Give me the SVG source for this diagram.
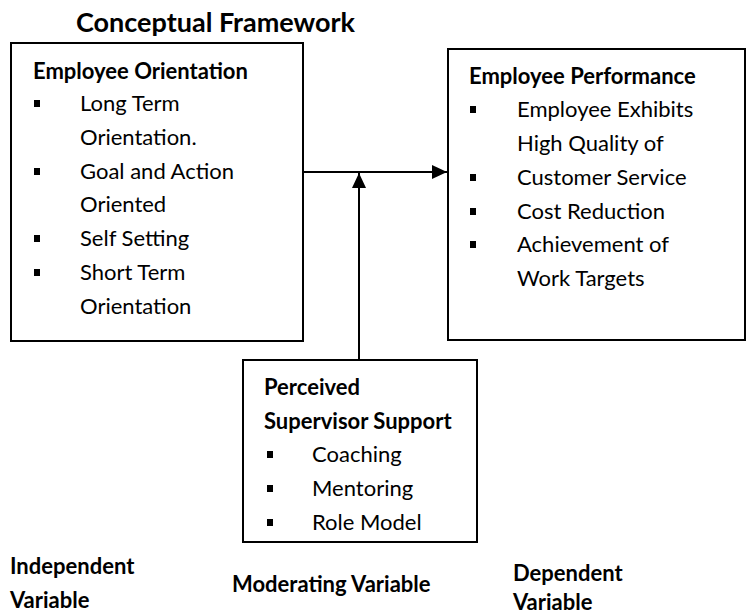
<svg xmlns="http://www.w3.org/2000/svg" width="748" height="614" viewBox="0 0 748 614">
<defs>
<style>
text{font-family:Lato,"Liberation Sans",sans-serif;fill:#000}
.t{font-size:27px;font-weight:bold}
.h{font-size:22px;font-weight:bold}
.i{font-size:22px}
.box{fill:#fff;stroke:#000;stroke-width:2}
.b{fill:#000}
.c{stroke:#000;stroke-width:2;fill:none}
</style>
<marker id="ah" markerWidth="16" markerHeight="14" refX="15" refY="7" orient="auto" markerUnits="userSpaceOnUse"><path d="M0,0 L15,7 L0,14 Z" fill="#000"/></marker>
</defs>
<rect width="748" height="614" fill="#fff"/>
<text class="t" x="76" y="32">Conceptual Framework</text>
<g id="independent">
<rect class="box" x="11" y="43" width="292" height="298"/>
<text class="h" x="33" y="79">Employee Orientation</text>
<rect class="b" x="34" y="100" width="6" height="7"/><text class="i" x="80" y="111">Long Term</text>
<text class="i" x="80" y="145">Orientation.</text>
<rect class="b" x="34" y="168" width="6" height="7"/><text class="i" x="80" y="179">Goal and Action</text>
<text class="i" x="80" y="212">Oriented</text>
<rect class="b" x="34" y="235" width="6" height="7"/><text class="i" x="80" y="246">Self Setting</text>
<rect class="b" x="34" y="269" width="6" height="7"/><text class="i" x="80" y="280">Short Term</text>
<text class="i" x="80" y="314">Orientation</text>
</g>
<g id="dependent">
<rect class="box" x="448" y="49" width="297" height="291"/>
<text class="h" x="469" y="84">Employee Performance</text>
<rect class="b" x="470" y="106" width="6" height="7"/><text class="i" x="517" y="117">Employee Exhibits</text>
<text class="i" x="517" y="151">High Quality of</text>
<rect class="b" x="470" y="174" width="6" height="7"/><text class="i" x="517" y="185">Customer Service</text>
<rect class="b" x="470" y="208" width="6" height="7"/><text class="i" x="517" y="219">Cost Reduction</text>
<rect class="b" x="470" y="241" width="6" height="7"/><text class="i" x="517" y="252">Achievement of</text>
<text class="i" x="517" y="286">Work Targets</text>
</g>
<g id="moderating">
<rect class="box" x="243" y="360" width="234" height="182"/>
<text class="h" x="264" y="395">Perceived</text>
<text class="h" x="264" y="429">Supervisor Support</text>
<rect class="b" x="267" y="451" width="6" height="7"/><text class="i" x="312" y="462">Coaching</text>
<rect class="b" x="267" y="485" width="6" height="7"/><text class="i" x="312" y="496">Mentoring</text>
<rect class="b" x="267" y="519" width="6" height="7"/><text class="i" x="312" y="530">Role Model</text>
</g>
<g id="connectors">
<line class="c" x1="303" y1="172" x2="447" y2="172" marker-end="url(#ah)"/>
<line class="c" x1="359" y1="360" x2="359" y2="173" marker-end="url(#ah)"/>
</g>
<g id="labels">
<text class="h" x="10" y="574">Independent</text>
<text class="h" x="10" y="608">Variable</text>
<text class="h" x="232" y="592">Moderating Variable</text>
<text class="h" x="513" y="581">Dependent</text>
<text class="h" x="513" y="610">Variable</text>
</g>
</svg>
